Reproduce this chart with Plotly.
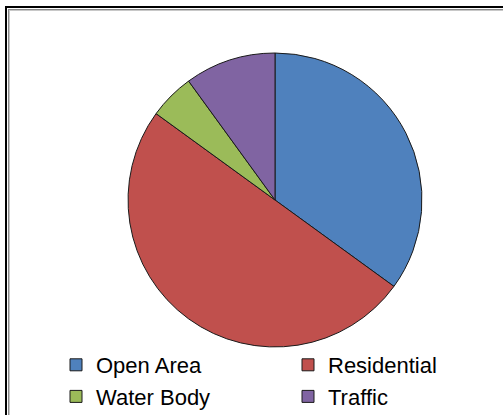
import plotly.graph_objects as go

categories = ["Open Area", "Residential", "Water Body", "Traffic"]
values = [35, 50, 5, 10]
colors = ["#4F81BD", "#C0504D", "#9BBB59", "#8064A2"]

W, H = 503, 415

def px(x):
    return x / W

def py(y):
    return 1 - y / H

fig = go.Figure(go.Pie(
    labels=categories,
    values=values,
    sort=False,
    direction="clockwise",
    rotation=0,
    textinfo="none",
    hoverinfo="label+value",
    marker=dict(colors=colors, line=dict(color="#1a1a1a", width=1)),
    domain=dict(x=[px(128), px(422)], y=[py(347), py(53)]),
))

shapes = []
shapes.append(dict(type="rect", xref="paper", yref="paper",
                   x0=px(6), x1=px(520), y0=py(430), y1=py(7),
                   line=dict(color="#000000", width=2), layer="above"))
shapes.append(dict(type="line", xref="paper", yref="paper",
                   x0=px(8.5), x1=px(8.5), y0=py(430), y1=py(9),
                   line=dict(color="#8a8a8a", width=1)))
shapes.append(dict(type="line", xref="paper", yref="paper",
                   x0=px(9), x1=px(520), y0=py(9.5), y1=py(9.5),
                   line=dict(color="#8a8a8a", width=1)))
shapes.append(dict(type="line", xref="paper", yref="paper",
                   x0=px(9.5), x1=px(9.5), y0=py(430), y1=py(10),
                   line=dict(color="#c8c8c8", width=1)))
shapes.append(dict(type="line", xref="paper", yref="paper",
                   x0=px(10), x1=px(520), y0=py(10.5), y1=py(10.5),
                   line=dict(color="#c8c8c8", width=1)))

fig.update_layout(
    width=W, height=H,
    autosize=False,
    margin=dict(l=0, r=0, t=0, b=0, pad=0, autoexpand=False),
    paper_bgcolor="white",
    plot_bgcolor="white",
    showlegend=True,
    shapes=shapes,
    legend=dict(
        orientation="h",
        x=px(56), y=py(344),
        xanchor="left", yanchor="top",
        entrywidth=187,
        traceorder="normal",
        font=dict(family="Liberation Sans, Arial, sans-serif", size=22, color="#000000"),
        bgcolor="rgba(0,0,0,0)",
        itemclick=False,
        tracegroupgap=0,
    ),
)

fig.write_html(
    "out.html",
    config={"responsive": False, "displayModeBar": False},
    post_script="document.body.style.margin='0';document.body.style.overflow='hidden';",
)
